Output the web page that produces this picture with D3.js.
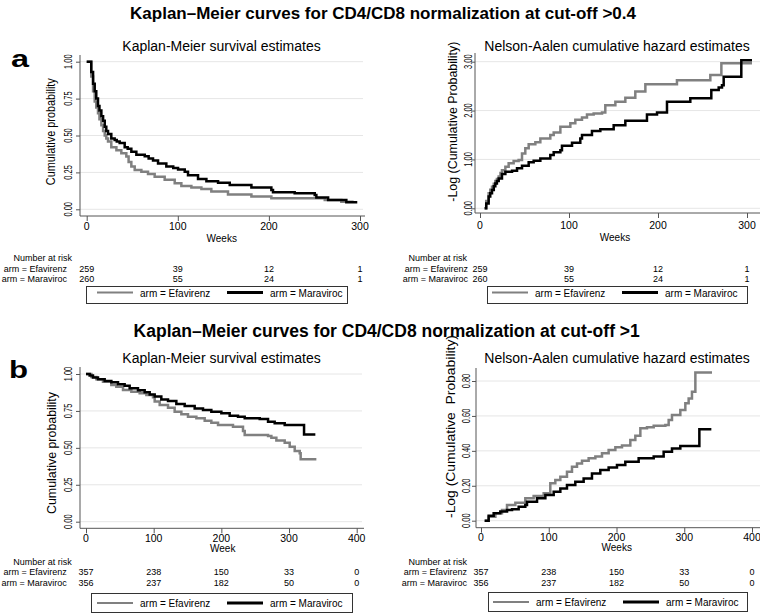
<!DOCTYPE html>
<html><head><meta charset="utf-8">
<script src="https://cdn.jsdelivr.net/npm/d3@7"></script>
<style>
body{margin:0;background:#fff;}
svg text{font-family:"Liberation Sans",Arial,Helvetica,sans-serif;fill:#000;}
</style></head><body>
<svg id="chart" width="760" height="614"></svg>
<script>
// ---------------- DATA ----------------
const arms = ["Efavirenz", "Maraviroc"];
const weekTicksA = [0, 100, 200, 300];
const weekTicksB = [0, 100, 200, 300, 400];
const kmYTicks = [0, 0.25, 0.5, 0.75, 1];
const naYTicksA = [0, 1, 2, 3];
const naYTicksB = [0, 0.2, 0.4, 0.6, 0.8];

const riskTimesA = [0, 100, 200, 300];
const riskA_Efavirenz = [259, 39, 12, 1];
const riskA_Maraviroc = [260, 55, 24, 1];
const riskTimesB = [0, 100, 200, 300, 400];
const riskB_Efavirenz = [357, 238, 150, 33, 0];
const riskB_Maraviroc = [356, 237, 182, 50, 0];

// [week, value] step points
const kmA_Efavirenz = [[0,1.0],[5,0.90],[7,0.80],[8.8,0.73],[10.5,0.69],[12.4,0.65],[14,0.61],[16.1,0.57],[18,0.53],[19.8,0.50],[21.5,0.48],[23.4,0.46],[27,0.42],[32.6,0.40],[38,0.38],[43.5,0.357],[46,0.32],[49,0.29],[52.7,0.266],[60,0.255],[67.3,0.24],[74.6,0.22],[85.6,0.20],[96.6,0.176],[103.9,0.158],[114.9,0.147],[125.9,0.138],[136.8,0.12],[155.1,0.10],[180.8,0.086],[202.7,0.075],[261.3,0.063],[279.5,0.052],[293,0.052]];
const kmA_Maraviroc = [[0,1.0],[5,0.93],[7,0.85],[8.8,0.80],[10.5,0.75],[12.4,0.70],[14,0.67],[16.1,0.63],[18,0.60],[19.8,0.56],[21.5,0.53],[23.4,0.51],[27,0.48],[30.7,0.47],[33,0.46],[36.2,0.45],[41.7,0.42],[45,0.41],[49,0.39],[54.5,0.37],[63.7,0.36],[68,0.345],[72.8,0.33],[78.3,0.31],[87.4,0.29],[95,0.28],[100.3,0.27],[107.6,0.255],[111.2,0.23],[122.2,0.205],[131.4,0.19],[144.2,0.18],[157,0.165],[180.8,0.147],[202.7,0.13],[204.5,0.115],[228.3,0.108],[250.3,0.097],[252.1,0.08],[265,0.063],[285,0.047],[297,0.047]];

const naA_Efavirenz = [[5.2,0],[7,0.15],[9.7,0.31],[11.5,0.38],[13.5,0.44],[15.5,0.50],[17.2,0.56],[19,0.60],[21,0.65],[23,0.72],[24.7,0.78],[28.5,0.85],[32.2,0.92],[37.8,0.97],[43.4,0.99],[47.2,1.12],[50.9,1.23],[54.7,1.31],[62.2,1.35],[67.8,1.43],[79,1.50],[82.8,1.55],[90.3,1.67],[101.5,1.74],[107.1,1.81],[114.6,1.86],[120.2,1.92],[127.7,1.94],[137.1,1.96],[140.8,2.11],[152.1,2.18],[163.3,2.26],[174.5,2.39],[185.8,2.54],[221.3,2.62],[258.8,2.73],[271.2,2.97],[305.6,2.97]];
const naA_Maraviroc = [[5.2,0],[7,0.10],[9.7,0.24],[11.5,0.31],[13.5,0.375],[15.5,0.45],[17.2,0.51],[19,0.56],[21,0.61],[24.7,0.70],[28.5,0.75],[36,0.77],[41.6,0.82],[47.2,0.87],[54.7,0.94],[60.3,0.975],[67.8,1.02],[79,1.09],[82.8,1.145],[90.3,1.19],[92.1,1.28],[103.4,1.34],[112.7,1.43],[114.6,1.50],[125.8,1.58],[135.2,1.62],[150.2,1.70],[163.3,1.79],[187.6,1.92],[198.9,1.96],[210.1,2.18],[236.3,2.25],[259.9,2.42],[268.2,2.47],[271.9,2.52],[273.8,2.69],[293.6,3.03],[305.6,3.03]];

const kmB_Efavirenz = [[0,1.0],[7.9,0.98],[15.3,0.964],[25.1,0.948],[37.4,0.925],[44.8,0.914],[54.7,0.892],[67,0.88],[79.3,0.869],[89.2,0.858],[99,0.842],[101.5,0.813],[108.9,0.79],[121.2,0.772],[131,0.745],[140.9,0.727],[150.7,0.711],[163.1,0.70],[175.4,0.684],[185.2,0.67],[195.1,0.655],[217.2,0.643],[232,0.614],[234.5,0.587],[269,0.58],[273.9,0.569],[281.3,0.549],[293.6,0.535],[301,0.508],[308.4,0.478],[315.8,0.463],[317.2,0.422],[340.4,0.422]];
const kmB_Maraviroc = [[0,1.0],[5.4,0.99],[10.3,0.977],[17.7,0.964],[27.6,0.953],[37.4,0.944],[47.3,0.93],[57.1,0.921],[64.5,0.903],[76.8,0.89],[86.7,0.876],[94.1,0.862],[101.5,0.847],[111.3,0.828],[121.2,0.817],[133.5,0.797],[145.8,0.783],[160.6,0.767],[172.9,0.756],[185.2,0.745],[200,0.734],[212.3,0.718],[224.6,0.711],[234.5,0.70],[256.7,0.695],[269,0.677],[278.8,0.666],[293.6,0.655],[322.2,0.591],[338.9,0.591]];

const naB_Efavirenz = [[5.4,0],[11.3,0.023],[21.2,0.042],[31,0.061],[38.4,0.09],[50.7,0.103],[65.4,0.128],[77.7,0.141],[92.5,0.157],[102.3,0.214],[109.7,0.233],[117.1,0.252],[126.9,0.281],[134.3,0.309],[141.7,0.328],[149.1,0.344],[158.9,0.357],[168.8,0.367],[178.6,0.386],[188.4,0.405],[198.3,0.42],[208.1,0.43],[220.4,0.462],[227.8,0.487],[235.2,0.529],[245,0.535],[254.9,0.544],[272.1,0.548],[277,0.577],[281.9,0.605],[294.2,0.634],[301.6,0.672],[306.5,0.70],[311.4,0.739],[316.4,0.848],[341,0.848]];
const naB_Maraviroc = [[5.4,0],[11.3,0.029],[18.7,0.042],[28.5,0.052],[38.4,0.061],[45.8,0.065],[55.6,0.08],[65.4,0.09],[67.9,0.109],[82.7,0.128],[95,0.147],[107.3,0.166],[117.1,0.185],[126.9,0.204],[139.2,0.223],[151.5,0.242],[163.8,0.271],[176.1,0.29],[188.4,0.305],[200.7,0.319],[213,0.338],[232.7,0.357],[254.9,0.367],[269.6,0.395],[281.9,0.414],[294.2,0.428],[322.3,0.523],[340,0.523]];

const titleA = "Kaplan\u2013Meier curves for CD4/CD8 normalization at cut-off >0.4";
const titleB = "Kaplan\u2013Meier curves for CD4/CD8 normalization at cut-off >1";
const kmTitle = "Kaplan-Meier survival estimates";
const naTitle = "Nelson-Aalen cumulative hazard estimates";

// ---------------- LAYOUT ----------------
const colors = {Efavirenz: "#808080", Maraviroc: "#000000"};
const svg = d3.select("#chart");

const panels = [
  {series:[kmA_Efavirenz, kmA_Maraviroc], xd:[0,300], xr:[86.7,360], yd:[0,1], yr:[209.3,61.7],
   xTicks:weekTicksA, yTicks:kmYTicks, axX:80, axTop:55, axY:216, axRight:365, gridRight:363,
   sub:kmTitle, subX:221.5, subY:51, yLab:"Cumulative probability", yLabX:54.5, yLabY:131.7, yLabLen:107, yLabFs:12.5,
   yTickX:72, xTickY:230, xTitle:"Weeks", xTitleX:221.7, xTitleY:241.7,
   riskHX:72, riskHY:261.2, riskLX:67, riskRows:[271.8,282.2], riskT:riskTimesA, risk:[riskA_Efavirenz, riskA_Maraviroc],
   leg:{x0:86, x1:347, y0:286, y1:303, s:97, ly:292.5, ty:296.5}},
  {series:[naA_Efavirenz, naA_Maraviroc], xd:[0,300], xr:[480,747], yd:[0,3], yr:[208.3,61.7],
   xTicks:weekTicksA, yTicks:naYTicksA, axX:475, axTop:53, axY:213, axRight:760, gridRight:760,
   sub:naTitle, subX:617, subY:51, yLab:"-Log (Cumulative Probability)", yLabX:457, yLabY:121.7, yLabLen:160, yLabFs:13,
   yTickX:472, xTickY:229, xTitle:"Weeks", xTitleX:615, xTitleY:241.2,
   riskHX:467, riskHY:261.2, riskLX:468, riskRows:[271.8,282.2], riskT:riskTimesA, risk:[riskA_Efavirenz, riskA_Maraviroc],
   leg:{x0:487, x1:747, y0:286, y1:303, s:492, ly:292.5, ty:296.5}},
  {series:[kmB_Efavirenz, kmB_Maraviroc], xd:[0,400], xr:[86,356.7], yd:[0,1], yr:[521.7,374],
   xTicks:weekTicksB, yTicks:kmYTicks, axX:80, axTop:367, axY:528.3, axRight:364, gridRight:362,
   sub:kmTitle, subX:221.5, subY:363.3, yLab:"Cumulative probability", yLabX:56, yLabY:453, yLabLen:122, yLabFs:12.5,
   yTickX:72, xTickY:542, xTitle:"Week", xTitleX:222.7, xTitleY:551.7,
   riskHX:71.7, riskHY:565.2, riskLX:66.7, riskRows:[575.3,586], riskT:riskTimesB, risk:[riskB_Efavirenz, riskB_Maraviroc],
   leg:{x0:91, x1:352, y0:593, y1:612, s:97, ly:603, ty:607}},
  {series:[naB_Efavirenz, naB_Maraviroc], xd:[0,400], xr:[481,752], yd:[0,0.8], yr:[520.7,381],
   xTicks:weekTicksB, yTicks:naYTicksB, axX:476, axTop:368, axY:527.7, axRight:760, gridRight:760,
   sub:naTitle, subX:617, subY:363.3, yLab:"-Log (Cumulative\u00a0 Probability)", yLabX:454.5, yLabY:426.5, yLabLen:183, yLabFs:13.5,
   yTickX:470, xTickY:541, xTitle:"Weeks", xTitleX:616.7, xTitleY:551,
   riskHX:467, riskHY:564.6, riskLX:467, riskRows:[575,585.5], riskT:riskTimesB, risk:[riskB_Efavirenz, riskB_Maraviroc],
   leg:{x0:488, x1:747, y0:592, y1:611, s:493, ly:602, ty:606}}
];

// Main titles
svg.append("text").attr("x", 383).attr("y", 19).attr("text-anchor","middle")
  .attr("font-size", 17).attr("font-weight","bold").text(titleA);
svg.append("text").attr("x", 386.7).attr("y", 336.7).attr("text-anchor","middle")
  .attr("font-size", 17.5).attr("font-weight","bold").text(titleB);
svg.append("text").attr("transform","translate(11,67) scale(1.35,1)")
  .attr("font-size", 24).attr("font-weight","bold").text("a");
svg.append("text").attr("transform","translate(9,378) scale(1.3,1)")
  .attr("font-size", 24).attr("font-weight","bold").text("b");

panels.forEach(p => {
  const g = svg.append("g");
  const x = d3.scaleLinear().domain(p.xd).range(p.xr);
  const y = d3.scaleLinear().domain(p.yd).range(p.yr);
  const fmt = d3.format(".2f");

  // gridlines
  g.selectAll(".grid").data(p.yTicks).join("line")
    .attr("x1", p.axX).attr("x2", p.gridRight)
    .attr("y1", d => y(d)).attr("y2", d => y(d))
    .attr("stroke", "#e6e6e6").attr("stroke-width", 1);

  // y axis
  const yAxis = d3.axisLeft(y).tickValues(p.yTicks).tickSize(4).tickFormat("");
  const yg = g.append("g").attr("transform", `translate(${p.axX},0)`).call(yAxis);
  yg.select(".domain").remove();
  yg.selectAll(".tick line").attr("stroke", "#555");
  g.append("line").attr("x1", p.axX).attr("x2", p.axX).attr("y1", p.axTop).attr("y2", p.axY)
    .attr("stroke", "#555").attr("stroke-width", 1);
  g.selectAll(".ytl").data(p.yTicks).join("text")
    .attr("transform", d => `translate(${p.yTickX},${y(d)}) rotate(-90)`)
    .attr("text-anchor","middle").attr("font-size", 10)
    .attr("textLength", 14.5).attr("lengthAdjust","spacingAndGlyphs")
    .text(d => fmt(d));

  // x axis
  const xAxis = d3.axisBottom(x).tickValues(p.xTicks).tickSize(5).tickFormat("");
  const xg = g.append("g").attr("transform", `translate(0,${p.axY})`).call(xAxis);
  xg.select(".domain").remove();
  xg.selectAll(".tick line").attr("stroke", "#555");
  g.append("line").attr("x1", p.axX).attr("x2", p.axRight).attr("y1", p.axY).attr("y2", p.axY)
    .attr("stroke", "#555").attr("stroke-width", 1);
  g.selectAll(".xtl").data(p.xTicks).join("text")
    .attr("x", d => x(d)).attr("y", p.xTickY).attr("text-anchor","middle")
    .attr("font-size", 10.5).text(d => d);

  // titles
  g.append("text").attr("x", p.subX).attr("y", p.subY).attr("text-anchor","middle")
    .attr("font-size", 14).text(p.sub);
  g.append("text").attr("transform", `translate(${p.yLabX},${p.yLabY}) rotate(-90)`)
    .attr("text-anchor","middle").attr("font-size", p.yLabFs)
    .attr("textLength", p.yLabLen).attr("lengthAdjust","spacingAndGlyphs")
    .text(p.yLab);
  g.append("text").attr("x", p.xTitleX).attr("y", p.xTitleY).attr("text-anchor","middle")
    .attr("font-size", 10).text(p.xTitle);

  // curves
  const line = d3.line().x(d => x(d[0])).y(d => y(d[1])).curve(d3.curveStepAfter);
  p.series.forEach((s, i) => {
    g.append("path").attr("d", line(s)).attr("fill","none")
      .attr("stroke", colors[arms[i]]).attr("stroke-width", 2.5)
      .attr("stroke-linejoin","miter");
  });

  // number at risk
  g.append("text").attr("x", p.riskHX).attr("y", p.riskHY).attr("text-anchor","end")
    .attr("font-size", 9).text("Number at risk");
  p.risk.forEach((vals, i) => {
    g.append("text").attr("x", p.riskLX).attr("y", p.riskRows[i]).attr("text-anchor","end")
      .attr("font-size", 9).text("arm = " + arms[i]);
    g.selectAll(".r" + i).data(vals).join("text")
      .attr("x", (d, j) => x(p.riskT[j])).attr("y", p.riskRows[i]).attr("text-anchor","middle")
      .attr("font-size", 9).text(d => d);
  });

  // legend
  const L = p.leg;
  g.append("rect").attr("x", L.x0 + 0.5).attr("y", L.y0 + 0.5)
    .attr("width", L.x1 - L.x0).attr("height", L.y1 - L.y0)
    .attr("fill", "#fff").attr("stroke", "#333").attr("stroke-width", 1);
  arms.forEach((a, i) => {
    const s = L.s + i * 130;
    g.append("line").attr("x1", s).attr("x2", s + 36).attr("y1", L.ly).attr("y2", L.ly)
      .attr("stroke", colors[a]).attr("stroke-width", i === 0 ? 2 : 2.8);
    g.append("text").attr("x", s + 43).attr("y", L.ty).attr("font-size", 10).text("arm = " + a);
  });
});
</script>
</body></html>
